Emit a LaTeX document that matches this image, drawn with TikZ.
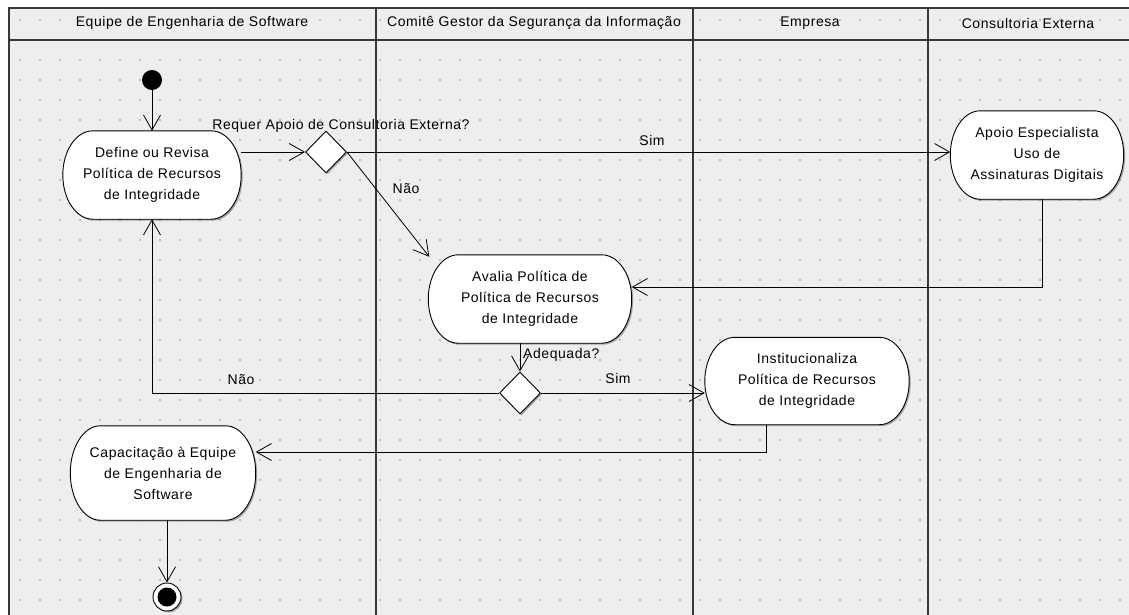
\documentclass[tikz,border=0pt]{standalone}
\usepackage{fontspec}
\setmainfont{Liberation Sans}[LetterSpace=4]
\usetikzlibrary{arrows.meta,shapes.geometric,shadows,calc}
\definecolor{canvas}{HTML}{EEEEEE}
\definecolor{griddot}{HTML}{BDBDBD}
\definecolor{frame}{HTML}{383838}
\pgfdeclarelayer{bottom}
\pgfdeclarelayer{background}
\pgfsetlayers{bottom,background,main}
% outline of an action: straight top and bottom, elliptical ends
\newcommand\stadium[3]{%
  \path[#2] let \p1=($(#1.north west)+(#3,-#3)$), \p2=($(#1.south east)+(#3,-#3)$),
      \n1={(\y1-\y2)/2} in
    (\x1+30pt,\y1) -- (\x2-30pt,\y1)
    arc[start angle=90,end angle=-90,x radius=30pt,y radius=\n1]
    -- (\x1+30pt,\y2)
    arc[start angle=270,end angle=90,x radius=30pt,y radius=\n1] -- cycle;}
\newcommand\actionbody[1]{%
  \begin{pgfonlayer}{background}
    \stadium{#1}{fill=black,opacity=0.3}{1.5pt}
    \stadium{#1}{fill=white,draw=black,line width=0.9pt}{0pt}
  \end{pgfonlayer}}
\begin{document}
\begin{tikzpicture}[x=1pt,y=-1pt,
  every node/.style={font=\fontsize{14}{21}\selectfont},
  lane/.style={draw=frame,line width=1.3pt},
  action/.style={align=center,inner sep=0pt},
  choice/.style={diamond,draw=black,fill=white,line width=0.9pt,inner sep=0pt,
    minimum width=41pt,minimum height=42pt,
    drop shadow={shadow xshift=1.5pt,shadow yshift=-1.5pt,opacity=0.3,fill=black}},
  flow/.style={draw=black,line width=0.8pt,-{Straight Barb[length=15pt,width=17pt,line width=0.8pt]}},
  guard/.style={inner sep=0pt}]
\useasboundingbox (0,0) rectangle (1129,614);
\clip (0,0) rectangle (1129,614);
\begin{pgfonlayer}{bottom}
% canvas and dotted grid
\fill[canvas] (9,8) rectangle (1135,620);
\foreach \gx in {20,40,...,1120}{
  \foreach \gy in {20,40,...,600}{
    \fill[griddot] (\gx-0.6,\gy-0.6) rectangle (\gx+0.6,\gy+0.6);
  }
}
% swimlanes
\draw[lane] (9,620) -- (9,8) -- (1135,8);
\draw[lane] (9,40) -- (1135,40);
\draw[lane] (376,8) -- (376,620);
\draw[lane] (693,8) -- (693,620);
\draw[lane] (928,8) -- (928,620);
\end{pgfonlayer}
\node (h1) at (192,23) {Equipe de Engenharia de Software};
\node (h2) at (534,23) {Comitê Gestor da Segurança da Informação};
\node (h3) at (810,23) {Empresa};
\node (h4) at (1028,23) {Consultoria Externa};
% actions and decisions
\node[circle,fill=black,minimum size=20pt,inner sep=0pt] (start) at (152,80) {};
\node[action,minimum width=178pt,minimum height=88pt] (define) at (152,175)
  {Define ou Revisa\\Política de Recursos\\de Integridade};
\actionbody{define}
\node[choice] (dia1) at (326,152) {};
\node[action,minimum width=173pt,minimum height=88pt] (apoio) at (1037,155)
  {Apoio Especialista\\Uso de\\Assinaturas Digitais};
\actionbody{apoio}
\node[action,minimum width=203pt,minimum height=88pt] (avalia) at (530,299)
  {Avalia Política de\\Política de Recursos\\de Integridade};
\actionbody{avalia}
\node[choice] (dia2) at (520,393) {};
\node[action,minimum width=204pt,minimum height=87pt] (inst) at (807,381)
  {Institucionaliza\\Política de Recursos\\de Integridade};
\actionbody{inst}
\node[action,minimum width=185pt,minimum height=94pt] (capac) at (163,473)
  {Capacitação à Equipe\\de Engenharia de\\Software};
\actionbody{capac}
\node[circle,draw=black,fill=white,line width=0.9pt,minimum size=28pt,inner sep=0pt,
  drop shadow={shadow xshift=1.5pt,shadow yshift=-1.5pt,opacity=0.3,fill=black}] (end) at (167,597) {};
\fill[black] (end.center) circle (9.5pt);
% control flows
\draw[flow] (start) -- (define.north);
\draw[flow] (define.east |- dia1.west) -- (dia1.west);
\draw[flow] (dia1.east) -- (dia1.east -| apoio.west);
\draw[flow] (dia1.east) -- ($(avalia.north west)+(1,2)$);
\draw[flow] ([xshift=5pt]apoio.south) |- ([yshift=12pt]avalia.east);
\draw[flow] (avalia.south -| dia2.north) -- (dia2.north);
\draw[flow] (dia2.west) -| (define.south);
\draw[flow] (dia2.east) -- (dia2.east -| inst.west);
\draw[flow] ([xshift=-41pt]inst.south) |- ([yshift=21pt]capac.east);
\draw[flow] (capac.south -| end.north) -- (end.north);
% guards
\node[guard] (q1) at (341,126) {Requer Apoio de Consultoria Externa?};
\node[guard] (s1) at (652,140) {Sim};
\node[guard] (n1) at (406,189) {Não};
\node[guard,anchor=west] (q2) at (523,355) {Adequada?};
\node[guard] (n2) at (241,380) {Não};
\node[guard] (s2) at (618,378) {Sim};
\end{tikzpicture}
\end{document}
